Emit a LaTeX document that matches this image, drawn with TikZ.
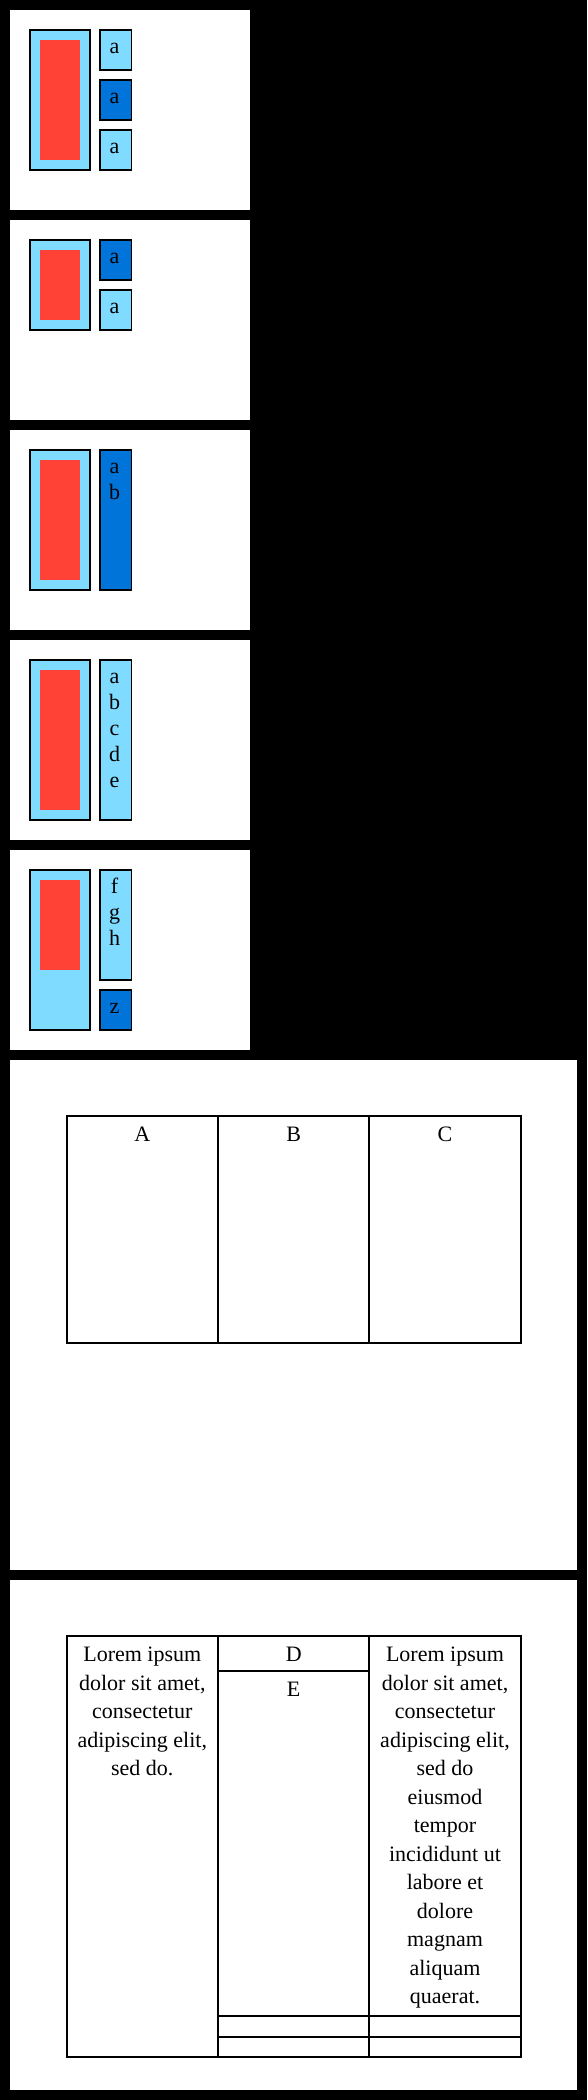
\documentclass[tikz,border=0pt]{standalone}
\usepackage{fontspec}
\setmainfont{Liberation Serif}
\definecolor{aqua}{HTML}{7FDBFF}
\definecolor{clrblue}{HTML}{0074D9}
\definecolor{clrred}{HTML}{FF4136}
\tikzset{
  itembox/.style={draw=black,line width=1.4pt},
  gridline/.style={line width=1.8pt},
  letter/.style={anchor=base,inner sep=0pt,font=\fontsize{22}{26}\selectfont},
  lorem/.style={anchor=base,inner sep=0pt,font=\fontsize{22}{28}\selectfont}
}

\begin{document}
\begin{tikzpicture}[x=1pt,y=-1pt]
\fill[black] (0,0) rectangle (587,2100);
\useasboundingbox (0,0) rectangle (587,2100);
% white panels
\foreach \k in {0,...,4}{\fill[white] (10,10+210*\k) rectangle (250,210+210*\k);}
\fill[white] (10,1060) rectangle (577,1570);
\fill[white] (10,1580) rectangle (577,2090);
% big boxes with red inner part
\foreach \t/\b/\r in {10/170/160,220/330/320,430/590/580,640/820/810,850/1030/970}{
  \draw[itembox,fill=aqua] (30,\t+20) rectangle (90,\b);
  \fill[clrred] (40,\t+30) rectangle (80,\r);
}
% small boxes, cut at the right
\begin{scope}
\clip (0,0) rectangle (132.2,1050);
\foreach \ya/\yb/\c in {30/70/aqua,80/120/clrblue,130/170/aqua,240/280/clrblue,290/330/aqua,
  450/590/clrblue,660/820/aqua,870/980/aqua,990/1030/clrblue}{
  \draw[itembox,fill=\c] (100,\ya) rectangle (131.5,\yb);
}
\end{scope}
\foreach \y/\s [count=\i] in {53.3/a,103.3/a,153.3/a,263.3/a,313.3/a,473.3/a,499.3/b,
  683.3/a,709.3/b,735.3/c,761.3/d,787.3/e,893.3/f,919.3/g,945.3/h,1013.3/z}{
  \node[letter] (let\i) at (114.5,\y) {\s};
}
% first table
\draw[gridline] (66.7,1116) rectangle (520.7,1343.3) (218,1116)--(218,1343.3) (369.3,1116)--(369.3,1343.3);
\foreach \x/\s in {142.3/A,293.7/B,445/C}{\node[lorem] (hd\s) at (\x,1141.7) {\s};}
% second table
\draw[gridline] (66.7,1636) rectangle (520.7,2056.7) (218,1636)--(218,2056.7) (369.3,1636)--(369.3,2056.7);
\draw[gridline] (218,1670.7)--(369.3,1670.7) (218,2016)--(520.7,2016) (218,2036.7)--(520.7,2036.7);
\node[lorem] (cD) at (293.7,1661.7) {D};
\node[lorem] (cE) at (293.7,1696) {E};
\foreach \s [count=\i] in {Lorem ipsum,{dolor sit amet,},consectetur,{adipiscing elit,},sed do.}{
  \node[lorem] (lL\i) at (142.3,1661.7+28.5*\i-28.5) {\s};
}
\foreach \s [count=\i] in {Lorem ipsum,{dolor sit amet,},consectetur,{adipiscing elit,},sed do,eiusmod,
  tempor,incididunt ut,labore et,dolore,magnam,aliquam,quaerat.}{
  \node[lorem] (lR\i) at (445,1661.7+28.5*\i-28.5) {\s};
}
\end{tikzpicture}
\end{document}
